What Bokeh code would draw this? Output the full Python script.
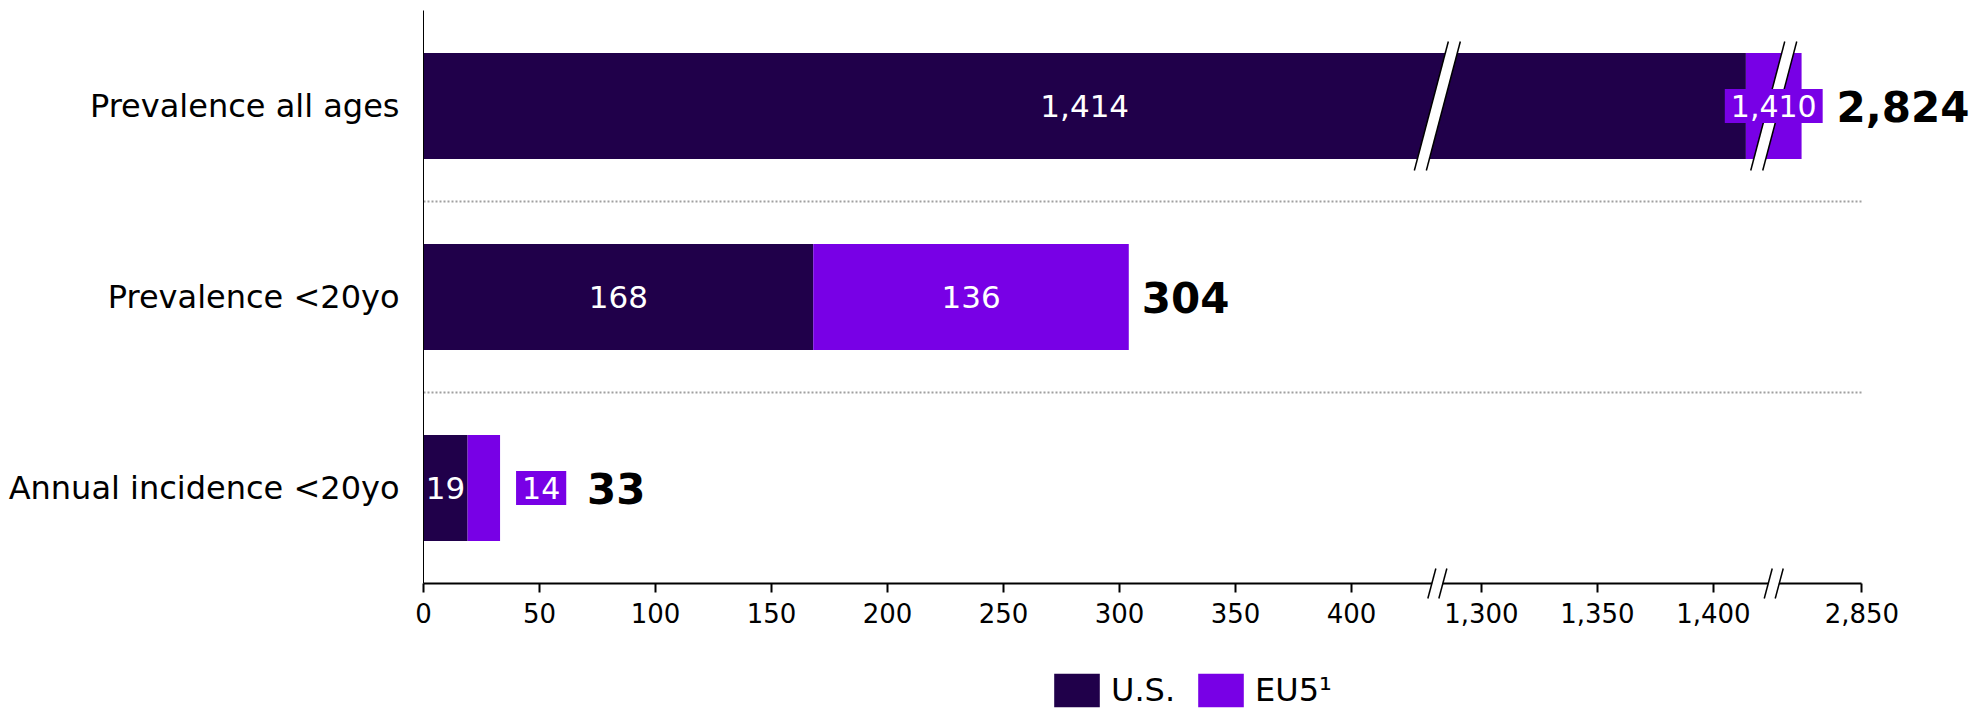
from bokeh.plotting import figure
from bokeh.models import Range1d, FixedTicker, Legend, LegendItem, Arrow, ColumnDataSource
from bokeh.embed import file_html
from bokeh.resources import INLINE
from bokeh.core.properties import value

# ---------------- data ----------------
categories = ["Prevalence all ages", "Prevalence <20yo", "Annual incidence <20yo"]
us_values = [1414, 168, 19]
eu5_values = [1410, 136, 14]
totals = [2824, 304, 33]
series_names = ["U.S.", "EU5\u00b9"]
x_tick_values = [0, 50, 100, 150, 200, 250, 300, 350, 400, 1300, 1350, 1400, 2850]
x_tick_labels = ["0", "50", "100", "150", "200", "250", "300", "350", "400",
                 "1,300", "1,350", "1,400", "2,850"]
# broken axis: visible value segments
axis_segments = [(0, 437), (1281, 1426), (2812, 2900)]

# ---------------- styles ----------------
US_COLOR = "#20004A"
EU_COLOR = "#7800E6"
FONT = "DejaVu Sans"
eu_label_style = ["inside_box", "inside", "outside_box"]
total_offsets = [35, 13, 87]

W, H = 1975, 712
LEFT, TOP = 423, 10
ROW_PX = 191
AXIS_Y_PX = TOP + ROW_PX * len(categories)          # pixel row of the x axis
PX_PER_UNIT = 2.32
x_start = -LEFT / PX_PER_UNIT
x_end = (W - LEFT) / PX_PER_UNIT
BAR_H = 106 / ROW_PX


def to_s(v):
    base = 0
    for lo, hi in axis_segments:
        if v <= hi:
            return base + (v - lo)
        base += hi - lo
    lo, hi = axis_segments[-1]
    return base - (hi - lo) + (v - lo)


break_s = []
_b = 0
for lo, hi in axis_segments[:-1]:
    _b += hi - lo
    break_s.append(_b)

n = len(categories)
y_pos = [n - 1 - i for i in range(n)]
y_cat_top = n - 0.5
y_top = y_cat_top + TOP / ROW_PX
y_axis = -0.5
y_bottom = y_axis - (H - AXIS_Y_PX) / ROW_PX

p = figure(width=W, height=H, output_backend="svg", toolbar_location=None,
           x_range=Range1d(x_start, x_end), y_range=Range1d(y_bottom, y_top),
           min_border_left=0, min_border_right=0, min_border_top=0,
           min_border_bottom=0, outline_line_color=None)
p.xgrid.visible = False
p.ygrid.visible = False

# x axis (broken), drawn at the bottom of the category area
xa = p.xaxis[0]
xa.fixed_location = y_axis
xa.ticker = FixedTicker(ticks=[to_s(v) for v in x_tick_values])
xa.major_label_overrides = {to_s(v): lab for v, lab in zip(x_tick_values, x_tick_labels)}
xa.bounds = (0, to_s(x_tick_values[-1]))
xa.axis_line_width = 2
xa.axis_line_color = "black"
xa.major_tick_line_width = 2
xa.major_tick_line_color = "black"
xa.major_tick_out = 9
xa.major_tick_in = 0
xa.minor_tick_out = 0
xa.minor_tick_in = 0
xa.major_label_text_font = FONT
xa.major_label_text_font_size = "26px"
xa.major_label_text_color = "black"
xa.major_label_standoff = 10

ya = p.yaxis[0]
ya.fixed_location = 0
ya.ticker = FixedTicker(ticks=y_pos)
ya.major_label_overrides = {y: c for y, c in zip(y_pos, categories)}
ya.bounds = (y_axis, y_cat_top)
ya.axis_line_color = "black"
ya.axis_line_width = 1
ya.major_tick_out = 0
ya.major_tick_in = 0
ya.minor_tick_out = 0
ya.minor_tick_in = 0
ya.major_label_text_font = FONT
ya.major_label_text_font_size = "32px"
ya.major_label_text_color = "black"
ya.major_label_standoff = 24

# separators
sep_y = [y + 0.5 for y in y_pos[1:]]
p.segment(x0=[0] * len(sep_y), x1=[to_s(x_tick_values[-1])] * len(sep_y), y0=sep_y, y1=sep_y,
          line_color="#A0A0A0", line_width=2, line_dash="2 2")

# bars
us_right = [to_s(v) for v in us_values]
eu_right = [to_s(u + e) for u, e in zip(us_values, eu5_values)]
src = ColumnDataSource(dict(y=y_pos, us_l=[0] * n, us_r=us_right, eu_r=eu_right))
r_us = p.hbar(y="y", left="us_l", right="us_r", height=BAR_H, source=src,
              fill_color=US_COLOR, line_color=None)
r_eu = p.hbar(y="y", left="us_r", right="eu_r", height=BAR_H, source=src,
              fill_color=EU_COLOR, line_color=None)

# break marks on the bar that crosses the breaks
row0 = y_pos[0]
hh = 64.5 / ROW_PX
slant = 17 / PX_PER_UNIT
hw = 6 / PX_PER_UNIT
for sb in break_s:
    xs = [sb - slant - hw, sb - slant + hw, sb + slant + hw, sb + slant - hw]
    ys = [row0 - hh, row0 - hh, row0 + hh, row0 + hh]
    p.patch(xs, ys, fill_color="white", line_color=None)
    p.segment(x0=[sb - slant - hw, sb - slant + hw], y0=[row0 - hh] * 2,
              x1=[sb + slant - hw, sb + slant + hw], y1=[row0 + hh] * 2,
              line_color="black", line_width=1.5)

# break marks on the x axis
ah = 15 / ROW_PX
aslant = 4 / PX_PER_UNIT
agap = 5.5 / PX_PER_UNIT
for sb in break_s:
    p.add_layout(Arrow(end=None, x_start=sb - aslant, y_start=y_axis - ah,
                       x_end=sb + aslant, y_end=y_axis + ah,
                       line_color="white", line_width=10))
    for d in (-agap, agap):
        p.add_layout(Arrow(end=None, x_start=sb - aslant + d, y_start=y_axis - ah,
                           x_end=sb + aslant + d, y_end=y_axis + ah,
                           line_color="black", line_width=1.5))

# value labels
lab_us = ColumnDataSource(dict(x=[r / 2 for r in us_right], y=y_pos,
                               t=[f"{v:,}" for v in us_values]))
p.text(x="x", y="y", text="t", source=lab_us, text_color="white",
       text_font=value(FONT), text_font_size="31px", text_align="center",
       text_baseline="middle")

in_x, in_y, in_t = [], [], []
bx_x, bx_y, bx_t, bx_a, bx_o = [], [], [], [], []
for i in range(n):
    mid = (us_right[i] + eu_right[i]) / 2
    t = f"{eu5_values[i]:,}"
    if eu_label_style[i] == "inside":
        in_x.append(mid); in_y.append(y_pos[i]); in_t.append(t)
    elif eu_label_style[i] == "inside_box":
        bx_x.append(mid); bx_y.append(y_pos[i]); bx_t.append(t); bx_a.append("center"); bx_o.append(0)
    else:
        bx_x.append(eu_right[i]); bx_y.append(y_pos[i]); bx_t.append(t); bx_a.append("left"); bx_o.append(16)

p.text(x=in_x, y=in_y, text=in_t, text_color="white", text_font=value(FONT),
       text_font_size="31px", text_align="center", text_baseline="middle")
box_src = ColumnDataSource(dict(x=bx_x, y=bx_y, t=bx_t, a=bx_a, o=bx_o))
p.text(x="x", y="y", text="t", source=box_src, text_color="white", text_font=value(FONT),
       text_font_size="30px", text_align="a", x_offset="o", text_baseline="middle",
       background_fill_color=EU_COLOR,
       padding=dict(left=6, right=6, top=6, bottom=6))

tot_src = ColumnDataSource(dict(x=[to_s(t) for t in totals], y=y_pos,
                                t=[f"{t:,}" for t in totals], o=total_offsets))
p.text(x="x", y="y", text="t", source=tot_src, x_offset="o", text_color="black",
       text_font=value(FONT), text_font_size="42px", text_font_style="bold",
       text_align="left", text_baseline="middle")

legend = Legend(items=[LegendItem(label=series_names[0], renderers=[r_us]),
                       LegendItem(label=series_names[1], renderers=[r_eu])],
                orientation="horizontal", location=(625 + LEFT, 1),
                glyph_width=57, glyph_height=42, label_text_font=FONT,
                label_text_font_size="32px", label_text_color="black",
                label_standoff=6, spacing=17, padding=0, margin=0,
                border_line_color=None, background_fill_alpha=0)
p.add_layout(legend, "center")

open("out.html", "w").write(file_html(p, INLINE))
